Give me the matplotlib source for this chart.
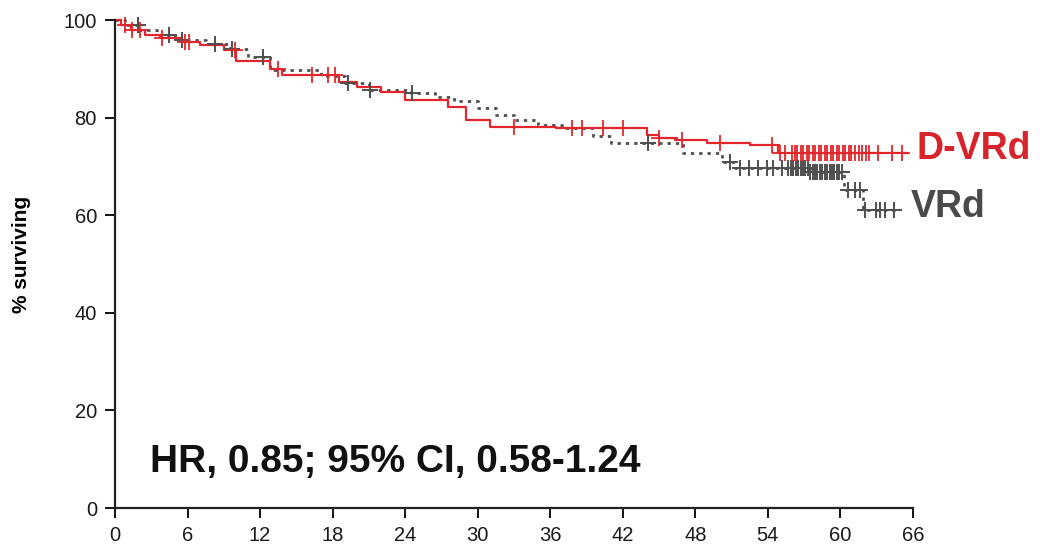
import numpy as np
import matplotlib
matplotlib.use('Agg')
import matplotlib.pyplot as plt

plt.rcParams['font.family'] = ['Liberation Sans', 'DejaVu Sans']

# Kaplan-Meier adimlari (ay, % hayatta)
dvrd_t = [0, 0.5, 1.3, 2.5, 3.8, 5.5, 7.0, 9.0, 10.0, 12.8, 13.8, 18.5, 20.0, 22.0, 24.0,
          27.5, 29.0, 31.0, 36.5, 44.0, 45.0, 46.5, 49.0, 52.5, 54.8, 65.5]
dvrd_s = [100, 99, 98, 97, 96.3, 95.4, 94.8, 93.8, 91.5, 90.0, 88.7, 87.3, 86.3, 85.2, 83.6,
          82.2, 79.6, 78.1, 77.9, 76.5, 75.8, 75.4, 74.8, 74.3, 72.7, 72.7]

vrd_t = [0, 0.8, 2.0, 3.5, 5.0, 7.5, 9.5, 11.0, 12.8, 17.0, 19.0, 21.0, 24.5, 26.5, 28.0,
         30.0, 31.5, 33.0, 35.0, 37.0, 39.5, 41.0, 47.0, 50.2, 51.3, 57.5, 60.3, 61.9, 64.6]
vrd_s = [100, 99, 98, 97, 96, 95, 94, 92.5, 89.8, 88.5, 87.0, 85.7, 85.0, 84.2, 83.5,
         82.0, 80.5, 79.5, 78.5, 77.9, 76.2, 74.8, 72.7, 70.9, 69.7, 68.9, 65.2, 61.0, 61.0]

# Sansurlenmis gozlemler (ay)
dvrd_cens = [0.8, 1.4, 2.1, 3.9, 5.8, 6.1, 9.9, 13.5, 16.3, 17.6, 18.2, 33.0, 37.8, 38.6,
             40.4, 42.0, 45.0, 46.9, 50.0, 54.3, 55.0, 55.4,
             56.0, 56.2, 56.4, 56.7, 56.9, 57.2, 57.4, 57.7, 57.9, 58.2, 58.4, 58.7, 58.9,
             59.2, 59.4, 59.7, 59.9, 60.2, 60.4, 60.7, 60.9, 61.2, 61.5, 61.8, 62.1, 62.4,
             63.1, 64.3, 65.1]
vrd_cens = [1.9, 4.5, 5.5, 8.3, 9.7, 12.2, 19.3, 21.1, 24.6, 44.1, 50.9, 51.7, 52.4, 53.2,
            53.9, 54.4, 55.2,
            55.7, 55.9, 56.1, 56.3, 56.5, 56.7, 56.9, 57.1, 57.3, 57.5, 57.7, 57.9, 58.1,
            58.3, 58.5, 58.7, 58.9, 59.1, 59.3, 59.5, 59.7, 59.9, 60.1,
            60.6, 61.2, 61.6, 62.0, 62.9, 63.3, 63.7, 64.4]

xticks = list(range(0, 67, 6))
yticks = [0, 20, 40, 60, 80, 100]

red = '#e3262b'
grey = '#4f4f4f'


def surv_at(times, t_steps, s_steps):
    idx = np.searchsorted(t_steps, times, side='right') - 1
    return np.array(s_steps)[idx]


fig = plt.figure(figsize=(10.4, 5.53), dpi=100)
ax = fig.add_axes([115 / 1040, 1 - 508 / 553, (913 - 115) / 1040, (508 - 20) / 553])

ax.step(vrd_t, vrd_s, where='post', color=grey, linestyle=(0, (1.2, 1.8)), lw=2.0, clip_on=False)
ax.step(dvrd_t, dvrd_s, where='post', color=red, lw=1.6, clip_on=False)

ax.plot(vrd_cens, surv_at(vrd_cens, vrd_t, vrd_s), '+', color=grey, ms=11, mew=1.4, clip_on=False)
ax.plot(dvrd_cens, surv_at(dvrd_cens, dvrd_t, dvrd_s), '+', color=red, ms=12, mew=1.3, clip_on=False)

ax.set_xlim(0, 66)
ax.set_ylim(0, 100)
ax.set_xticks(xticks)
ax.set_yticks(yticks)
ax.tick_params(direction='out', length=7, width=1.3, labelsize=14.5, labelcolor='#1a1a1a', pad=6)
for side in ['top', 'right']:
    ax.spines[side].set_visible(False)
for side in ['left', 'bottom']:
    ax.spines[side].set_linewidth(1.6)
    ax.spines[side].set_color('#222222')

ax.set_ylabel('% surviving', fontsize=15, fontweight='bold', labelpad=16)
ax.yaxis.set_label_coords(-0.105, 0.52)

ax.text(2.9, 7.4, 'HR, 0.85; 95% CI, 0.58-1.24', fontsize=28, fontweight='bold',
        color='#111111', ha='left', va='baseline')
ax.text(66.3, 73.6, 'D-VRd', fontsize=27, fontweight='bold', color='#d8232a',
        ha='left', va='center', clip_on=False)
ax.text(65.8, 61.7, 'VRd', fontsize=27, fontweight='bold', color='#4a4a4a',
        ha='left', va='center', clip_on=False)

fig.savefig('out.png', dpi=100)
